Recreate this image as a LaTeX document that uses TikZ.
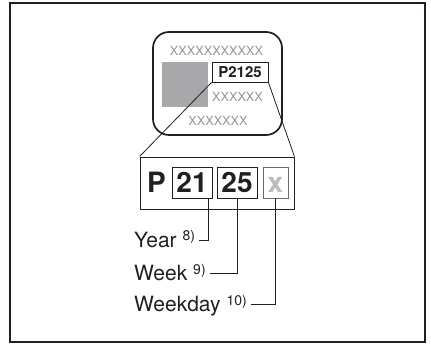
\documentclass[tikz,border=0pt]{standalone}
\usepackage{fontspec}
\setmainfont{TeX Gyre Heros}
\definecolor{xgray}{RGB}{150,150,150}
\definecolor{sqgray}{RGB}{168,168,170}
\definecolor{lgray}{RGB}{188,188,188}
\definecolor{bgray}{RGB}{105,105,105}
\definecolor{ink}{RGB}{35,31,32}
\newcommand{\supnote}[1]{\hspace{6pt}\raisebox{6.5pt}{\fontsize{14}{14}\selectfont #1}}
\begin{document}
\begin{tikzpicture}[x=1pt,y=-1pt,
  xtext/.style={text=xgray,font=\fontsize{12.7}{13}\selectfont,inner sep=0},
  digbox/.style={draw=ink,line width=0.9pt,minimum height=31pt,inner sep=0,
    text height=20pt,text depth=0pt,font=\fontsize{28}{28}\selectfont\bfseries},
  leader/.style={draw=ink,line width=0.9pt},
  lab/.style={anchor=west,inner sep=0,text height=15pt,text depth=0pt,
    font=\fontsize{21}{21}\selectfont,text=ink},
  zoomline/.style={draw=ink,line width=0.8pt}]
\useasboundingbox (0,0) rectangle (431,344);
% outer frame
\node[draw=ink,line width=1.3pt,minimum width=415pt,minimum height=339pt,inner sep=0] (frame) at (217.5,172.5) {};
% label card
\node[draw=ink,line width=1.7pt,rounded corners=16pt,minimum width=129pt,minimum height=103pt,inner sep=0] (card) at (217.5,83.5) {};
\node[xtext] (x1) at (216.5,51) {XXXXXXXXXXX};
\node[fill=sqgray,minimum width=46pt,minimum height=45pt,inner sep=0] (sq) at (185,84.5) {};
\node[draw=ink,line width=0.9pt,minimum width=56pt,minimum height=20pt,inner sep=0,
  font=\fontsize{15}{15}\selectfont\bfseries,text=ink] (code) at (240,72) {P2125};
\node[xtext] (x2) at (237.5,97) {XXXXXX};
\node[xtext] (x3) at (218,121) {XXXXXXX};
% enlarged code
\node[draw=ink,line width=0.9pt,minimum width=154pt,minimum height=52pt,inner sep=0] (big) at (217,183) {};
\node[inner sep=0,text height=20pt,text depth=0pt,font=\fontsize{28}{28}\selectfont\bfseries,text=ink] (pp) at (156.5,183) {P};
\node[digbox,minimum width=40pt,text=ink] (b21) at (192,182.5) {21};
\node[digbox,minimum width=40pt,text=ink] (b25) at (237,182.5) {25};
\node[digbox,minimum width=25pt,draw=bgray,text=lgray] (bx) at (275.5,182.5) {x};
% zoom lines
\draw[zoomline] (code.south west) -- (big.north west);
\draw[zoomline] (code.south east) -- (big.north east);
% labels
\node[lab] (yr) at (134,240) {Year\supnote{8)}};
\node[lab] (wk) at (134,273.5) {Week\supnote{9)}};
\node[lab] (wd) at (134,304.5) {Weekday\supnote{10)}};
\coordinate (c21) at ([xshift=-4pt]b21.south east);
\draw[leader] (c21) |- ([xshift=4pt]yr.east);
\draw[leader] (b25.south) |- ([xshift=4pt]wk.east);
\draw[leader] (bx.south) |- ([xshift=4pt]wd.east);
\end{tikzpicture}
\end{document}
